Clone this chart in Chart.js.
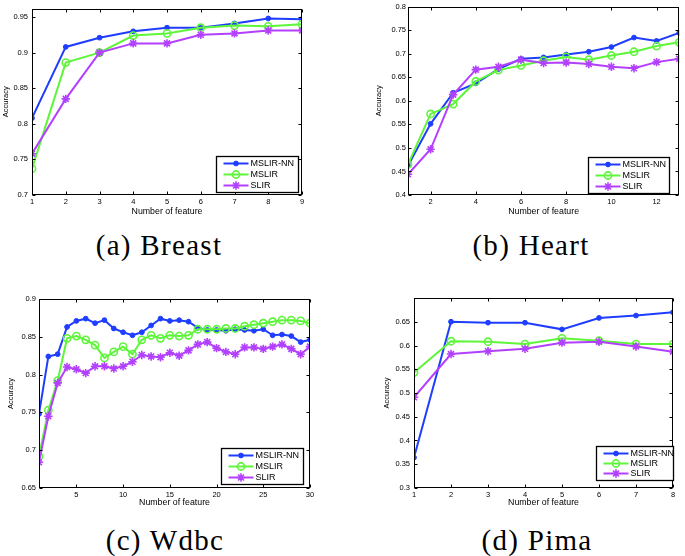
<!DOCTYPE html>
<html>
<head>
<meta charset="utf-8">
<script src="https://cdn.jsdelivr.net/npm/chart.js@4.4.1/dist/chart.umd.min.js"></script>
<style>
    html, body { margin: 0; padding: 0; background: #fff; }
    body { width: 685px; height: 556px; position: relative; overflow: hidden; }
    canvas { position: absolute; }
    .caption {
        position: absolute;
        width: 220px;
        margin-left: -110px;
        text-align: center;
        font-family: "Liberation Serif", "DejaVu Serif", serif;
        font-size: 29px;
        letter-spacing: 1.3px;
        line-height: 28px;
        color: #000;
    }
</style>
</head>
<body>
<canvas id="breastChart" width="340" height="225" style="left:0;top:0"></canvas>
<canvas id="heartChart" width="345" height="225" style="left:340px;top:0"></canvas>
<canvas id="wdbcChart" width="340" height="230" style="left:0;top:280px"></canvas>
<canvas id="pimaChart" width="345" height="230" style="left:340px;top:280px"></canvas>

<div class="caption" style="left:159px;top:231px">(a) Breast</div>
<div class="caption" style="left:531px;top:231px">(b) Heart</div>
<div class="caption" style="left:165px;top:526px">(c) Wdbc</div>
<div class="caption" style="left:537px;top:526px">(d) Pima</div>

<script>
// series names, shared by all four panels
const seriesNames = ['MSLIR-NN', 'MSLIR', 'SLIR'];

// (a) Breast
const breastFeatures = [1, 2, 3, 4, 5, 6, 7, 8, 9];
const breastMslirNN = [0.808, 0.908, 0.921, 0.930, 0.935, 0.935, 0.941, 0.948, 0.947];
const breastMslir = [0.737, 0.886, 0.900, 0.924, 0.927, 0.935, 0.938, 0.937, 0.940];
const breastSlir = [0.758, 0.835, 0.900, 0.913, 0.913, 0.925, 0.927, 0.931, 0.931];
const breastXTicks = [1, 2, 3, 4, 5, 6, 7, 8, 9];
const breastYTicks = [0.7, 0.75, 0.8, 0.85, 0.9, 0.95];

// (b) Heart
const heartFeatures = [1, 2, 3, 4, 5, 6, 7, 8, 9, 10, 11, 12, 13];
const heartMslirNN = [0.462, 0.551, 0.617, 0.637, 0.667, 0.689, 0.692, 0.698, 0.704, 0.714, 0.734, 0.727, 0.744];
const heartMslir = [0.465, 0.572, 0.593, 0.641, 0.665, 0.675, 0.685, 0.693, 0.687, 0.696, 0.704, 0.716, 0.724];
const heartSlir = [0.444, 0.497, 0.613, 0.666, 0.672, 0.687, 0.680, 0.681, 0.678, 0.672, 0.669, 0.682, 0.689];
const heartXTicks = [2, 4, 6, 8, 10, 12];
const heartYTicks = [0.4, 0.45, 0.5, 0.55, 0.6, 0.65, 0.7, 0.75, 0.8];

// (c) Wdbc
const wdbcFeatures = [1, 2, 3, 4, 5, 6, 7, 8, 9, 10, 11, 12, 13, 14, 15,
    16, 17, 18, 19, 20, 21, 22, 23, 24, 25, 26, 27, 28, 29, 30];
const wdbcMslirNN = [0.748, 0.824, 0.827, 0.863, 0.871, 0.874, 0.868, 0.872, 0.861, 0.856,
    0.852, 0.856, 0.865, 0.874, 0.871, 0.872, 0.870, 0.862, 0.859, 0.859,
    0.858, 0.860, 0.859, 0.858, 0.860, 0.852, 0.853, 0.851, 0.843, 0.846];
const wdbcMslir = [0.692, 0.753, 0.792, 0.848, 0.851, 0.846, 0.839, 0.822, 0.830, 0.837,
    0.827, 0.846, 0.852, 0.848, 0.852, 0.851, 0.852, 0.860, 0.860, 0.860,
    0.861, 0.861, 0.864, 0.866, 0.868, 0.870, 0.872, 0.872, 0.871, 0.868];
const wdbcSlir = [0.684, 0.745, 0.789, 0.810, 0.807, 0.802, 0.811, 0.811, 0.808, 0.811,
    0.817, 0.826, 0.824, 0.823, 0.829, 0.825, 0.832, 0.840, 0.843, 0.835,
    0.830, 0.827, 0.836, 0.836, 0.834, 0.837, 0.840, 0.834, 0.827, 0.837];
const wdbcXTicks = [5, 10, 15, 20, 25, 30];
const wdbcYTicks = [0.65, 0.7, 0.75, 0.8, 0.85, 0.9];

// (d) Pima
const pimaFeatures = [1, 2, 3, 4, 5, 6, 7, 8];
const pimaMslirNN = [0.364, 0.650, 0.648, 0.648, 0.634, 0.658, 0.663, 0.670];
const pimaMslir = [0.543, 0.609, 0.608, 0.603, 0.615, 0.610, 0.603, 0.603];
const pimaSlir = [0.491, 0.582, 0.588, 0.593, 0.606, 0.608, 0.598, 0.587];
const pimaXTicks = [1, 2, 3, 4, 5, 6, 7, 8];
const pimaYTicks = [0.3, 0.35, 0.4, 0.45, 0.5, 0.55, 0.6, 0.65];

const SANS = '"Liberation Sans", Arial, sans-serif';
const BLUE = '#1f3dff';
const GREEN = '#5ef53a';
const PURPLE = '#b340ff';

function drawMarker(ctx, ds, x, y) {
    ctx.fillStyle = ds.pointBackgroundColor;
    ctx.strokeStyle = ds.borderColor;
    ctx.lineWidth = ds.pointBorderWidth;
    Chart.helpers.drawPoint(ctx, {
        pointStyle: ds.pointStyle,
        radius: ds.pointRadius,
        borderWidth: ds.pointBorderWidth,
        rotation: 0
    }, x, y);
}

// box around the plot, inward ticks, and the legend inside the plot
const matlabAxes = {
    id: 'matlabAxes',
    afterDatasetsDraw(chart, args, opts) {
        const { ctx, chartArea: a } = chart;
        const xs = chart.scales.x, ys = chart.scales.y;
        const L = Math.round(a.left) + 0.5, R = Math.round(a.right) - 0.5;
        const T = Math.round(a.top) + 0.5, B = Math.round(a.bottom) - 0.5;
        ctx.save();
        ctx.strokeStyle = '#000';
        ctx.lineWidth = 1;
        ctx.beginPath();
        xs.ticks.forEach(t => {
            const px = Math.round(xs.getPixelForValue(t.value)) + 0.5;
            ctx.moveTo(px, B); ctx.lineTo(px, B - 3);
            ctx.moveTo(px, T); ctx.lineTo(px, T + 3);
        });
        ys.ticks.forEach(t => {
            const py = Math.round(ys.getPixelForValue(t.value)) + 0.5;
            ctx.moveTo(L, py); ctx.lineTo(L + 3, py);
            ctx.moveTo(R, py); ctx.lineTo(R - 3, py);
        });
        ctx.stroke();
        ctx.strokeRect(L, T, R - L, B - T);

        // legend
        const w = opts.width, h = opts.height;
        const x0 = Math.round(a.right - opts.right - w) + 0.5;
        const y0 = Math.round(a.bottom - opts.bottom - h) + 0.5;
        ctx.fillStyle = '#fff';
        ctx.fillRect(x0, y0, w, h);
        ctx.lineWidth = 1.3;
        ctx.strokeStyle = '#000';
        ctx.strokeRect(x0, y0, w, h);
        ctx.font = '9px ' + SANS;
        ctx.textBaseline = 'middle';
        const rowGap = (h - 14) / 2;
        chart.data.datasets.forEach((ds, i) => {
            const cy = y0 + 7 + i * rowGap;
            ctx.strokeStyle = ds.borderColor;
            ctx.lineWidth = ds.borderWidth;
            ctx.beginPath();
            ctx.moveTo(x0 + 7, cy);
            ctx.lineTo(x0 + 32, cy);
            ctx.stroke();
            drawMarker(ctx, ds, x0 + 19.5, cy);
            ctx.fillStyle = '#000';
            ctx.fillText(ds.label, x0 + 34, cy + 0.5);
        });
        ctx.restore();
    }
};

function buildDatasets(features, nn, ms, sl) {
    const pts = arr => features.map((f, i) => ({ x: f, y: arr[i] }));
    return [
        {
            label: seriesNames[0], data: pts(nn), order: 2,
            borderColor: BLUE, backgroundColor: BLUE, pointBackgroundColor: BLUE,
            borderWidth: 2, pointStyle: 'circle', pointRadius: 2.4, pointBorderWidth: 1
        },
        {
            label: seriesNames[1], data: pts(ms), order: 1,
            borderColor: GREEN, backgroundColor: GREEN, pointBackgroundColor: 'rgba(255,255,255,0)',
            borderWidth: 2, pointStyle: 'circle', pointRadius: 3.6, pointBorderWidth: 1.6
        },
        {
            label: seriesNames[2], data: pts(sl), order: 0,
            borderColor: PURPLE, backgroundColor: PURPLE, pointBackgroundColor: PURPLE,
            borderWidth: 2, pointStyle: 'star', pointRadius: 4.2, pointBorderWidth: 1.6
        }
    ];
}

function makeChart(id, datasets, xTicks, yTicks, xRange, yRange, box) {
    const fmt = v => String(+Number(v).toFixed(2));
    return new Chart(document.getElementById(id), {
        type: 'line',
        data: { datasets },
        options: {
            responsive: false,
            devicePixelRatio: 1,
            animation: false,
            events: [],
            layout: { padding: { left: box.padLeft, top: box.padTop, right: box.padRight, bottom: box.padBottom } },
            plugins: {
                legend: { display: false },
                tooltip: { enabled: false },
                matlabAxes: box.legend
            },
            elements: { line: { tension: 0 } },
            scales: {
                x: {
                    type: 'linear',
                    min: xRange[0], max: xRange[1],
                    afterBuildTicks: axis => { axis.ticks = xTicks.map(v => ({ value: v })); },
                    afterFit: axis => { axis.height = box.xHeight; },
                    grid: { display: false, drawTicks: false },
                    border: { display: false },
                    ticks: { padding: 2, maxRotation: 0, autoSkip: false, color: '#000',
                        font: { family: SANS, size: 7.5 }, callback: fmt },
                    title: { display: true, text: 'Number of feature', color: '#000', padding: 0,
                        font: { family: SANS, size: 8.8 } }
                },
                y: {
                    type: 'linear',
                    min: yRange[0], max: yRange[1],
                    afterBuildTicks: axis => { axis.ticks = yTicks.map(v => ({ value: v })); },
                    afterFit: axis => { axis.width = box.yWidth; },
                    grid: { display: false, drawTicks: false },
                    border: { display: false },
                    ticks: { padding: box.yTickPad, autoSkip: false, color: '#000',
                        font: { family: SANS, size: 7.5 }, callback: fmt },
                    title: { display: true, text: 'Accuracy', color: '#000', padding: 0,
                        font: { family: SANS, size: 7.5 } }
                }
            }
        },
        plugins: [matlabAxes]
    });
}

makeChart('breastChart',
    buildDatasets(breastFeatures, breastMslirNN, breastMslir, breastSlir),
    breastXTicks, breastYTicks, [1, 9], [0.7, 0.962],
    { padLeft: 1, padTop: 5, padRight: 38, padBottom: 8.6, yWidth: 31, xHeight: 21.4, yTickPad: 4,
      legend: { width: 82, height: 36, right: 4, bottom: 3 } });

makeChart('heartChart',
    buildDatasets(heartFeatures, heartMslirNN, heartMslir, heartSlir),
    heartXTicks, heartYTicks, [1, 13], [0.4, 0.8],
    { padLeft: 34, padTop: 6, padRight: 5, padBottom: 8.6, yWidth: 34, xHeight: 21.4, yTickPad: 2,
      legend: { width: 81, height: 36, right: 10, bottom: 2 } });

makeChart('wdbcChart',
    buildDatasets(wdbcFeatures, wdbcMslirNN, wdbcMslir, wdbcSlir),
    wdbcXTicks, wdbcYTicks, [1, 30], [0.65, 0.9],
    { padLeft: 6.5, padTop: 19, padRight: 30, padBottom: 2.6, yWidth: 32.5, xHeight: 19.4, yTickPad: 3,
      legend: { width: 82, height: 36, right: 7, bottom: 4 } });

makeChart('pimaChart',
    buildDatasets(pimaFeatures, pimaMslirNN, pimaMslir, pimaSlir),
    pimaXTicks, pimaYTicks, [1, 8], [0.3, 0.7],
    { padLeft: 42.5, padTop: 18, padRight: 12, padBottom: 2.6, yWidth: 31.5, xHeight: 19.4, yTickPad: 4,
      legend: { width: 77, height: 34, right: 0, bottom: 8 } });
</script>
</body>
</html>
